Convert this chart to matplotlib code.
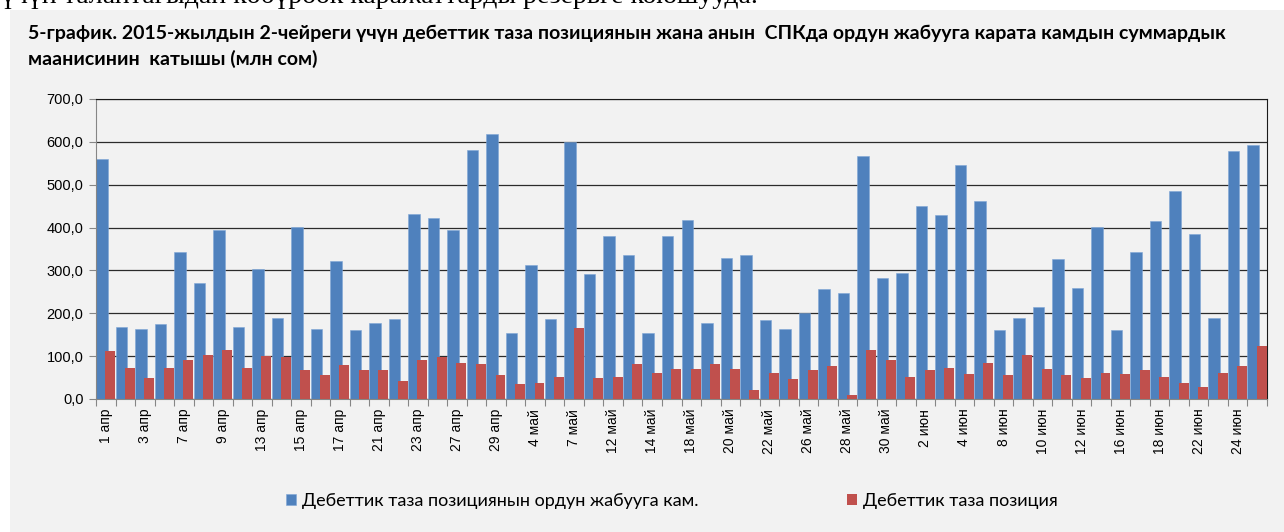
import matplotlib
matplotlib.use('Agg')
import matplotlib.pyplot as plt
import matplotlib.patches as patches
import numpy as np

# Dates (every second one is labelled on the axis)
dates = [
    '1 апр', '2 апр', '3 апр', '6 апр', '7 апр', '8 апр', '9 апр', '10 апр',
    '13 апр', '14 апр', '15 апр', '16 апр', '17 апр', '20 апр', '21 апр',
    '22 апр', '23 апр', '24 апр', '27 апр', '28 апр', '29 апр', '30 апр',
    '4 май', '6 май', '7 май', '8 май', '12 май', '13 май', '14 май', '15 май',
    '18 май', '19 май', '20 май', '21 май', '22 май', '25 май', '26 май',
    '27 май', '28 май', '29 май', '30 май', '1 июн', '2 июн', '3 июн', '4 июн',
    '5 июн', '8 июн', '9 июн', '10 июн', '11 июн', '12 июн', '15 июн', '16 июн',
    '17 июн', '18 июн', '19 июн', '22 июн', '23 июн', '24 июн', '25 июн',
]

# Reserve for covering the net debit position (mln som)
reserve = [
    561, 169, 163, 175, 343, 271, 394, 169, 304, 190,
    402, 163, 322, 160, 178, 187, 432, 423, 395, 581,
    618, 154, 313, 187, 599, 292, 381, 336, 154, 381,
    417, 177, 330, 336, 184, 163, 201, 256, 247, 566,
    282, 294, 450, 429, 546, 462, 160, 190, 214, 327,
    258, 402, 160, 343, 415, 486, 384, 190, 579, 593,
]

# Net debit position (mln som)
net_debit = [
    112, 73, 49, 73, 91, 103, 115, 73, 100, 97,
    67, 55, 79, 67, 67, 43, 91, 97, 85, 82,
    55, 34, 37, 52, 166, 49, 52, 82, 61, 70,
    70, 82, 70, 22, 61, 46, 67, 76, 10, 115,
    91, 52, 67, 73, 58, 85, 55, 103, 70, 55,
    49, 61, 58, 67, 52, 37, 28, 61, 76, 124,
]

legend_labels = ['Дебеттик таза позициянын ордун жабууга кам.', 'Дебеттик таза позиция']
yticks = [0, 100, 200, 300, 400, 500, 600, 700]

BLUE = '#4F81BD'
RED = '#C0504D'
PANEL = '#F2F2F2'

W, H = 1284, 532
fig = plt.figure(figsize=(W / 100, H / 100), dpi=100)
fig.patch.set_facecolor('white')

# grey chart panel below the cut-off text line
fig.add_artist(patches.Rectangle((10 / W, 0), 1 - 10 / W, (H - 10) / H,
                                 transform=fig.transFigure, facecolor=PANEL,
                                 edgecolor='none', zorder=0))

# cut-off line of the surrounding document (only its lower edge is visible)
fig.text(0 / W, 1 - 3 / H, 'үчүн талаптағыдан көбүрөөк каражаттарды резервге коюшууда.',
         family='Liberation Serif', fontsize=20, va='baseline', ha='left', color='black')

title_font = ['Lato', 'DejaVu Sans']
fig.text(28 / W, 1 - 33 / H,
         '5-график. 2015-жылдын 2-чейреги үчүн дебеттик таза позициянын жана анын  '
         'СПКда ордун жабууга карата камдын суммардык',
         family=title_font, fontweight='bold', fontsize=14,
         va='center', ha='left', color='black')
fig.text(28 / W, 1 - 59 / H, 'маанисинин  катышы (млн сом)',
         family=title_font, fontweight='bold', fontsize=14,
         va='center', ha='left', color='black')

ax = fig.add_axes([96 / W, (H - 399) / H, (1267 - 96) / W, 300 / H])
ax.set_facecolor(PANEL)

x = np.arange(len(dates))
ax.bar(x, reserve, width=0.59, align='edge', color=BLUE, edgecolor='#7FA6D6',
       linewidth=0.4, zorder=2, label=legend_labels[0])
ax.bar(x + 0.47, net_debit, width=0.51, align='edge', color=RED, edgecolor='none',
       zorder=3, label=legend_labels[1])

ax.set_xlim(0, len(dates))
ax.set_ylim(0, 700)
ax.set_yticks(yticks)
ax.set_yticklabels([f'{v:.1f}'.replace('.', ',') for v in yticks],
                   family='Liberation Sans', fontsize=10.5)
ax.yaxis.grid(True, color='#2b2b2b', linewidth=0.9, zorder=1)
ax.set_axisbelow(True)

# tick marks at category boundaries, labels on every second category
ax.set_xticks(np.arange(len(dates) + 1))
ax.set_xticklabels([])
ax.set_xticks(x[::2] + 0.5, minor=True)
ax.set_xticklabels(dates[::2], minor=True, rotation=90, ha='center', va='top',
                   family='Liberation Sans', fontsize=10)
ax.tick_params(axis='x', which='major', length=5, color='#868686', direction='out')
ax.tick_params(axis='x', which='minor', length=0, pad=7)
ax.tick_params(axis='y', length=5, color='#868686', direction='out', pad=4)

for side in ['left', 'bottom']:
    ax.spines[side].set_color('#868686')
ax.spines['right'].set_color('#1a1a1a')
ax.spines['top'].set_color('#1a1a1a')

fig.legend(loc='center', bbox_to_anchor=(672 / W, (H - 501) / H), ncol=2,
           frameon=False, handlelength=0.55, handleheight=0.55, handletextpad=0.35,
           columnspacing=8.2, prop={'family': title_font, 'size': 13})

fig.savefig('out.png', dpi=100, facecolor='white')
